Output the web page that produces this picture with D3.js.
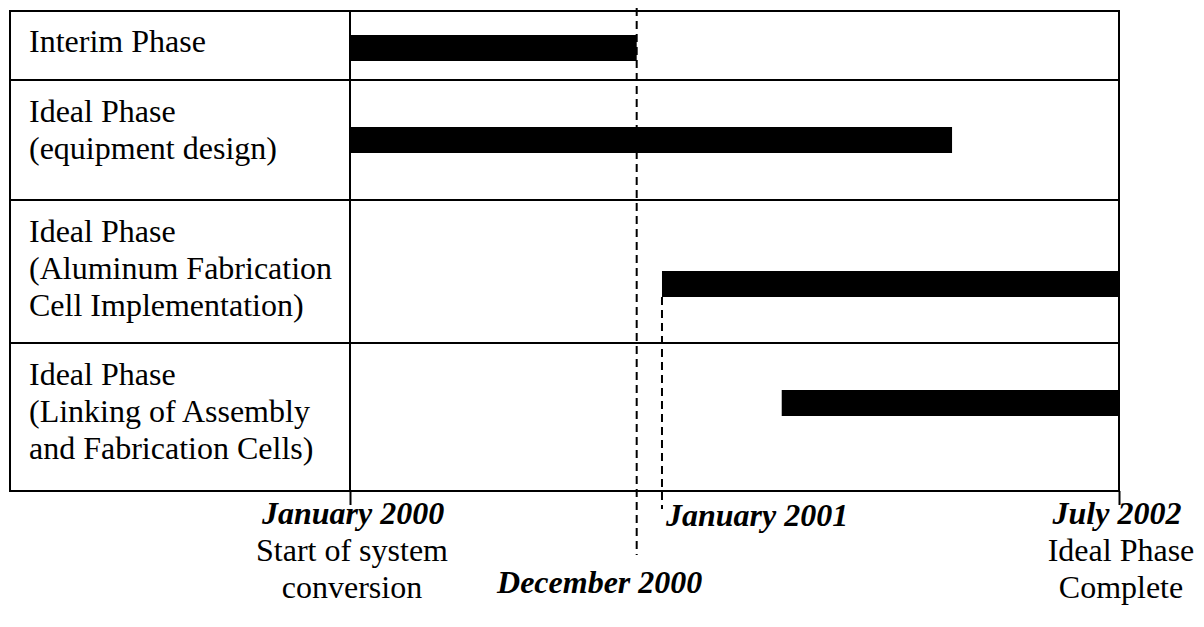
<!DOCTYPE html>
<html>
<head>
<meta charset="utf-8">
<script src="https://cdn.jsdelivr.net/npm/d3@7"></script>
<style>
  html, body { margin: 0; padding: 0; background: #fff; }
  svg { display: block; }
</style>
</head>
<body>
<svg id="chart" width="1204" height="627"></svg>
<script>
// phases (rows), one label line per entry
const phaseLabels = [
  ["Interim Phase"],
  ["Ideal Phase", "(equipment design)"],
  ["Ideal Phase", "(Aluminum Fabrication", "Cell Implementation)"],
  ["Ideal Phase", "(Linking of Assembly", "and Fabrication Cells)"]
];
const phaseStart = ["2000-01-01", "2000-01-01", "2001-01-05", "2001-05-27"];
const phaseEnd   = ["2000-12-06", "2001-12-15", "2002-07-01", "2002-07-01"];

// milestones along the bottom
const milestoneDates  = ["2000-01-01", "2000-12-06", "2001-01-05", "2002-07-01"];
const milestoneTitles = ["January 2000", "December 2000", "January 2001", "July 2002"];
const milestoneNotes  = [["Start of system", "conversion"], [], [], ["Ideal Phase", "Complete"]];

const parse = d3.timeParse("%Y-%m-%d");

// layout
const gridLeft = 10, gridRight = 1119, gridTop = 11;
const labelCol = 350;
const rowHeights = [69, 120, 143, 148];
const barCenter = [37, 60, 84, 60];   // bar centre from row top
const textOffset = [41, 42, 42, 42];  // first baseline from row top
const barH = 26;
const lineH = 37;
const fontSize = 32;
const serif = "'Liberation Serif', 'Times New Roman', Tinos, serif";

const svg = d3.select("#chart")
  .attr("font-family", serif);

const x = d3.scaleTime()
  .domain([parse(milestoneDates[0]), parse(milestoneDates[3])])
  .range([labelCol, gridRight]);

const rowTops = [];
rowHeights.reduce((acc, h) => { rowTops.push(acc); return acc + h; }, gridTop);
const gridBottom = gridTop + d3.sum(rowHeights);

const rows = phaseLabels.map((lines, i) => ({
  lines,
  start: parse(phaseStart[i]),
  end: parse(phaseEnd[i]),
  y0: rowTops[i],
  h: rowHeights[i],
  bc: barCenter[i],
  to: textOffset[i]
}));

// grid
const grid = svg.append("g")
  .attr("stroke", "#000")
  .attr("stroke-width", 2)
  .attr("fill", "none");

grid.append("rect")
  .attr("x", gridLeft).attr("y", gridTop)
  .attr("width", gridRight - gridLeft).attr("height", gridBottom - gridTop);

grid.selectAll("line.row")
  .data(rows.slice(1))
  .join("line")
  .attr("class", "row")
  .attr("x1", gridLeft).attr("x2", gridRight)
  .attr("y1", d => d.y0).attr("y2", d => d.y0);

grid.append("line")
  .attr("x1", labelCol).attr("x2", labelCol)
  .attr("y1", gridTop).attr("y2", gridBottom);

// solid end ticks via axis
const axis = d3.axisBottom(x)
  .tickValues([parse(milestoneDates[0]), parse(milestoneDates[3])])
  .tickSize(14)
  .tickFormat("");

const ax = svg.append("g")
  .attr("transform", `translate(0,${gridBottom})`)
  .call(axis);
ax.select(".domain").remove();
ax.selectAll(".tick line").attr("stroke", "#000").attr("stroke-width", 2);

// row labels
svg.append("g")
  .selectAll("text")
  .data(rows)
  .join("text")
  .attr("font-family", serif)
  .attr("font-size", fontSize)
  .attr("fill", "#000")
  .each(function (d) {
    d3.select(this).selectAll("tspan")
      .data(d.lines)
      .join("tspan")
      .attr("x", 29)
      .attr("y", (l, j) => d.y0 + d.to + j * lineH)
      .text(l => l);
  });

// bars
svg.append("g")
  .selectAll("rect")
  .data(rows)
  .join("rect")
  .attr("x", d => x(d.start))
  .attr("y", d => d.y0 + d.bc - barH / 2)
  .attr("width", d => x(d.end) - x(d.start))
  .attr("height", barH)
  .attr("fill", "#000");

// dashed milestone lines
const dash = svg.append("g")
  .attr("stroke", "#000")
  .attr("stroke-width", 2)
  .attr("stroke-dasharray", "8,5");

const decX = x(parse(milestoneDates[1]));
dash.append("line")
  .attr("x1", decX).attr("x2", decX)
  .attr("y1", 8).attr("y2", 555);

const janX = x(parse(milestoneDates[2]));
dash.append("line")
  .attr("x1", janX).attr("x2", janX)
  .attr("y1", rows[2].y0 + rows[2].bc + barH / 2).attr("y2", 509);

// milestone labels
const labelPos = [
  { dx: 3, y: 524, anchor: "middle" },
  { dx: -37, y: 593, anchor: "middle" },
  { dx: 4, y: 526, anchor: "start" },
  { dx: -2, y: 524, anchor: "middle" }
];

const ms = svg.append("g")
  .selectAll("text")
  .data(milestoneTitles.map((t, i) => ({
    title: t,
    notes: milestoneNotes[i],
    x: x(parse(milestoneDates[i])),
    pos: labelPos[i]
  })))
  .join("text")
  .attr("font-family", serif)
  .attr("font-size", fontSize)
  .attr("fill", "#000")
  .attr("text-anchor", d => d.pos.anchor);

ms.append("tspan")
  .attr("x", d => d.x + d.pos.dx)
  .attr("y", d => d.pos.y)
  .attr("font-weight", "bold")
  .attr("font-style", "italic")
  .text(d => d.title);

ms.each(function (d) {
  d3.select(this).selectAll("tspan.note")
    .data(d.notes)
    .join("tspan")
    .attr("class", "note")
    .attr("x", d.x + 2)
    .attr("y", (n, j) => d.pos.y + (j + 1) * 37)
    .text(n => n);
});
</script>
</body>
</html>
